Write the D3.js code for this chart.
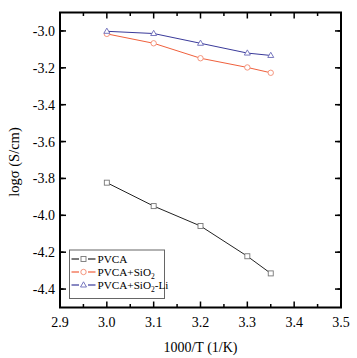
<!DOCTYPE html>
<html><head><meta charset="utf-8">
<script src="https://cdn.jsdelivr.net/npm/d3@7"></script>
<style>body{margin:0;background:#fff}svg{display:block}</style>
</head><body><svg id="c" width="357" height="358"></svg>
<script>
const xs = [3.0, 3.1, 3.2, 3.3, 3.35];
const pvca = [-3.823, -3.95, -4.058, -4.222, -4.315];
const pvcaSiO2 = [-3.016, -3.067, -3.148, -3.198, -3.227];
const pvcaSiO2Li = [-3.002, -3.014, -3.067, -3.12, -3.133];
const seriesNames = ["PVCA", "PVCA+SiO2", "PVCA+SiO2-Li"];
const xTicks = [2.9, 3.0, 3.1, 3.2, 3.3, 3.4, 3.5];
const yTicks = [-3.0, -3.2, -3.4, -3.6, -3.8, -4.0, -4.2, -4.4];

const svg = d3.select("#c");
const L = 60, R = 341, T = 12.5, B = 307.5;
const x = d3.scaleLinear().domain([2.9, 3.5]).range([L, R]);
const y = d3.scaleLinear().domain([-4.5, -2.9]).range([B, T]);
const font = "'Liberation Serif', 'Times New Roman', serif";

const xMinor = d3.range(2.95, 3.5, 0.1);
const yMinor = d3.range(-4.5, -2.9, 0.2).map(v => v + 0.1);
const g = svg.append("g");
const tk = (x1,y1,x2,y2) => g.append("line").attr("x1",x1).attr("y1",y1).attr("x2",x2).attr("y2",y2).attr("stroke","#000").attr("stroke-width",1.5);
xTicks.forEach(v => { tk(x(v),B,x(v),B-6); tk(x(v),T,x(v),T+6); });
xMinor.forEach(v => { tk(x(v),B,x(v),B-3.5); tk(x(v),T,x(v),T+3.5); });
yTicks.forEach(v => { tk(L,y(v),L+6,y(v)); tk(R,y(v),R-6,y(v)); });
yMinor.forEach(v => { tk(L,y(v),L+3.5,y(v)); tk(R,y(v),R-3.5,y(v)); });

svg.append("rect").attr("x",L).attr("y",T).attr("width",R-L).attr("height",B-T)
  .attr("fill","none").attr("stroke","#000").attr("stroke-width",2);

xTicks.forEach(v => svg.append("text").attr("x",x(v)).attr("y",B+19).attr("text-anchor","middle")
  .attr("font-family",font).attr("font-size",14).text(v.toFixed(1)));
yTicks.forEach(v => svg.append("text").attr("x",L-5).attr("y",y(v)+5).attr("text-anchor","end")
  .attr("font-family",font).attr("font-size",14).text(v.toFixed(1)));

svg.append("text").attr("x",(L+R)/2).attr("y",352).attr("text-anchor","middle")
  .attr("font-family",font).attr("font-size",14).text("1000/T (1/K)");
svg.append("text").attr("transform",`translate(19,162) rotate(-90)`).attr("text-anchor","middle")
  .attr("font-family",font).attr("font-size",14.5).text("logσ (S/cm)");

const series = [
  {vals: pvca, line: "#222", mark: "#777", shape: "square"},
  {vals: pvcaSiO2, line: "#f0603c", mark: "#f38a70", shape: "circle"},
  {vals: pvcaSiO2Li, line: "#3a3a9a", mark: "#6a6ab8", shape: "tri"}
];
function marker(sel, s, cx, cy) {
  if (s.shape === "square") sel.append("rect").attr("x",cx-2.5).attr("y",cy-2.5).attr("width",5).attr("height",5)
    .attr("fill","#fff").attr("stroke",s.mark).attr("stroke-width",0.9);
  else if (s.shape === "circle") sel.append("circle").attr("cx",cx).attr("cy",cy).attr("r",2.7)
    .attr("fill","#fff").attr("stroke",s.mark).attr("stroke-width",0.9);
  else sel.append("path").attr("d",`M${cx},${cy-3.2}L${cx+3},${cy+2}L${cx-3},${cy+2}Z`)
    .attr("fill","#fff").attr("stroke",s.mark).attr("stroke-width",0.9);
}
const line = d3.line().x(d => x(d[0])).y(d => y(d[1]));
series.forEach(s => {
  const pts = xs.map((v,i) => [v, s.vals[i]]);
  svg.append("path").attr("d", line(pts)).attr("fill","none").attr("stroke",s.line).attr("stroke-width",1);
  pts.forEach(p => marker(svg, s, x(p[0]), y(p[1])));
});

// legend
const lg = svg.append("g");
lg.append("rect").attr("x",69.5).attr("y",250).attr("width",95).attr("height",48.5)
  .attr("fill","#fff").attr("stroke","#666").attr("stroke-width",1);
series.forEach((s,i) => {
  const yy = 259 + i*13;
  lg.append("line").attr("x1",71.5).attr("x2",79).attr("y1",yy).attr("y2",yy).attr("stroke",s.line).attr("stroke-width",1.2);
  lg.append("line").attr("x1",88).attr("x2",95.5).attr("y1",yy).attr("y2",yy).attr("stroke",s.line).attr("stroke-width",1.2);
  marker(lg, s, 83.5, yy);
  const t = lg.append("text").attr("x",97.5).attr("y",yy+4).attr("font-family",font).attr("font-size",11.2);
  if (i === 0) t.text(seriesNames[0]);
  else {
    t.append("tspan").text("PVCA+SiO");
    t.append("tspan").attr("font-size",7.5).attr("dy",2.5).text("2");
    if (i === 2) t.append("tspan").attr("dy",-2.5).text("-Li");
  }
});
</script></body></html>
